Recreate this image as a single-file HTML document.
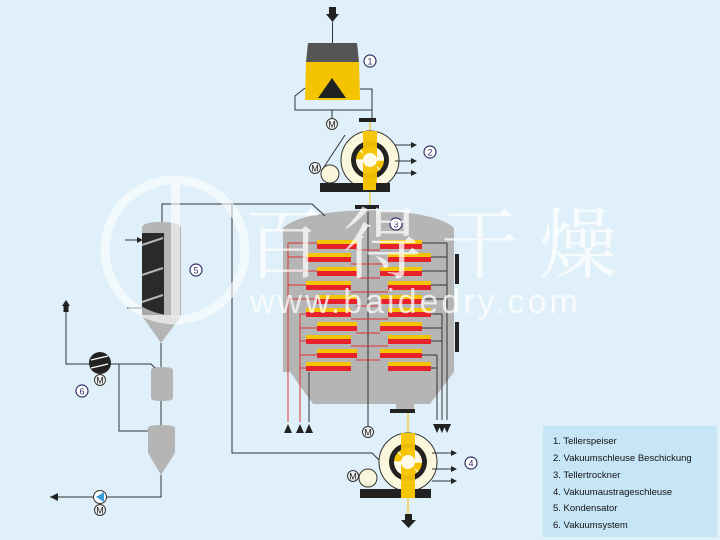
<!DOCTYPE html>
<html><head><meta charset="utf-8"><style>
html,body{margin:0;padding:0;background:#dff0fa;}
svg{display:block;font-family:"Liberation Sans",sans-serif;}
</style></head><body>
<svg width="720" height="540" viewBox="0 0 720 540" xmlns="http://www.w3.org/2000/svg">
<defs>
<marker id="ab" markerWidth="6" markerHeight="6" refX="5" refY="3" orient="auto"><path d="M0,0L6,3L0,6z" fill="#222"/></marker>
<g id="valve">
  <circle cx="0" cy="0" r="29" fill="#fbf7dc" stroke="#333" stroke-width="1"/>
  <circle cx="0" cy="0" r="19" fill="#222"/>
  <circle cx="0" cy="0" r="14" fill="#f5c400"/>
  <g stroke="#fff" stroke-width="1.2">
    <line x1="-14" y1="0" x2="14" y2="0"/><line x1="0" y1="-14" x2="0" y2="14"/>
    <line x1="-10" y1="-10" x2="10" y2="10"/><line x1="-10" y1="10" x2="10" y2="-10"/>
  </g>
  <path d="M0,-14A14,14 0 0 1 14,0L0,0z M0,14A14,14 0 0 1 -14,0L0,0z" fill="#fff" opacity="0.9"/>
  <rect x="-7" y="-29" width="14" height="58" fill="#f5c400" opacity="0.95"/>
  <circle cx="0" cy="0" r="7" fill="#fffbe8"/>
</g>
<g id="m"><circle r="5.5" fill="#eee" stroke="#333" stroke-width="1"/><text y="3.5" text-anchor="middle" font-size="9" fill="#222">M</text></g>
</defs>
<rect width="720" height="540" fill="#dff0fa"/>

<!-- top arrow & hopper -->
<rect x="329" y="7" width="7" height="8" fill="#222"/><path d="M326,14L339,14L332.5,22z" fill="#222"/>
<line x1="332.5" y1="22" x2="332.5" y2="43" stroke="#333"/>
<path d="M308,43L357,43L359,62L306,62z" fill="#555"/>
<path d="M306,62L359,62L360,100L305,100z" fill="#f5c400"/>
<path d="M332,78L346,98L318,98z" fill="#222"/>
<path d="M305,88L295,96L295,110L332,110L332,118 M332,110L372,110" fill="none" stroke="#333"/>
<path d="M360,89L372,89L372,122" fill="none" stroke="#333"/>
<use href="#m" x="332" y="124"/>
<rect x="359" y="118" width="17" height="4" fill="#222"/>
<line x1="370" y1="122" x2="370" y2="135" stroke="#f5c400"/>
<circle cx="370" cy="61" r="6" fill="#fff" stroke="#336" stroke-width="1.2"/><text x="370" y="64.5" text-anchor="middle" font-size="9" fill="#336">1</text>

<!-- valve 2 -->
<use href="#valve" x="370" y="160"/>
<circle cx="330" cy="174" r="9" fill="#fbf7dc" stroke="#333"/>
<path d="M322,170L345,135" stroke="#333"/>
<use href="#m" x="315" y="168"/>
<rect x="320" y="183" width="70" height="9" fill="#222"/>
<rect x="363" y="178" width="13" height="12" fill="#f5c400"/>
<g stroke="#333" marker-end="url(#ab)"><line x1="395" y1="145" x2="416" y2="145"/><line x1="395" y1="161" x2="416" y2="161"/><line x1="395" y1="173" x2="416" y2="173"/></g>
<circle cx="430" cy="152" r="6" fill="#fff" stroke="#336" stroke-width="1.2"/><text x="430" y="155.5" text-anchor="middle" font-size="9" fill="#336">2</text>
<line x1="370" y1="192" x2="370" y2="206" stroke="#f5c400"/>

<!-- dryer vessel -->
<rect x="355" y="205" width="24" height="4" fill="#222"/>
<path d="M283,228Q300,212 368,210Q437,212 454,228L454,372L430,404L313,404L290,372L283,372z" fill="#b5b5b5"/>
<rect x="396" y="404" width="18" height="8" fill="#b5b5b5"/>
<rect x="390" y="409" width="25" height="4" fill="#222"/>
<line x1="408" y1="413" x2="408" y2="440" stroke="#f5c400"/>
<rect x="455" y="254" width="4" height="30" fill="#222"/><rect x="455" y="322" width="4" height="30" fill="#222"/>
<circle cx="396" cy="224" r="6" fill="#fff" stroke="#336" stroke-width="1.2"/><text x="396" y="227.5" text-anchor="middle" font-size="9" fill="#336">3</text>
<line x1="368" y1="207" x2="368" y2="372" stroke="#333"/>
<line x1="368" y1="372" x2="368" y2="427" stroke="#333"/>
<use href="#m" x="368" y="432"/>
<!-- red heat lines -->
<g stroke="#d33" stroke-width="1" fill="none">
<line x1="288" y1="243" x2="288" y2="422"/><line x1="300" y1="314" x2="300" y2="422"/>
<path d="M288,243H317 M288,257H306 M288,271H317 M288,285H306 M288,299H317 M300,314H306 M300,328H317 M300,341H306 M300,355H317 M300,368H306"/>
<path d="M356,250H380 M351,264H388 M356,278H380 M351,292H388 M356,306H380 M351,319H388 M356,333H380 M351,346H388 M356,360H380"/>
</g>
<g stroke="#333" stroke-width="1" fill="none">
<path d="M422,243H447 M431,257H447 M422,271H447 M431,285H447 M422,299H447 M431,314H442 M422,328H442 M431,341H442 M422,355H437 M431,368H437"/>
<line x1="447" y1="243" x2="447" y2="420"/><line x1="442" y1="314" x2="442" y2="420"/><line x1="437" y1="355" x2="437" y2="420"/>
<line x1="309" y1="372" x2="309" y2="422"/>
</g>
<g>
<path d="M284,433L288,424L292,433z M296,433L300,424L304,433z M305,433L309,424L313,433z" fill="#222"/>
<path d="M433,424L437,433L441,424z M438,424L442,433L446,424z M443,424L447,433L451,424z" fill="#222"/>
</g>
<!-- plates -->
<g>
<g id="pl"><rect x="317" y="240" width="40" height="4" fill="#f5c400"/><rect x="317" y="244" width="40" height="5" fill="#e8222a"/></g>
<rect x="306" y="253" width="45" height="4" fill="#f5c400"/><rect x="306" y="257" width="45" height="5" fill="#e8222a"/>
<rect x="317" y="267" width="40" height="4" fill="#f5c400"/><rect x="317" y="271" width="40" height="5" fill="#e8222a"/>
<rect x="306" y="281" width="45" height="4" fill="#f5c400"/><rect x="306" y="285" width="45" height="5" fill="#e8222a"/>
<rect x="317" y="295" width="40" height="4" fill="#f5c400"/><rect x="317" y="299" width="40" height="5" fill="#e8222a"/>
<rect x="306" y="308" width="45" height="4" fill="#f5c400"/><rect x="306" y="312" width="45" height="5" fill="#e8222a"/>
<rect x="317" y="322" width="40" height="4" fill="#f5c400"/><rect x="317" y="326" width="40" height="5" fill="#e8222a"/>
<rect x="306" y="335" width="45" height="4" fill="#f5c400"/><rect x="306" y="339" width="45" height="5" fill="#e8222a"/>
<rect x="317" y="349" width="40" height="4" fill="#f5c400"/><rect x="317" y="353" width="40" height="5" fill="#e8222a"/>
<rect x="306" y="362" width="45" height="4" fill="#f5c400"/><rect x="306" y="366" width="45" height="5" fill="#e8222a"/>

<rect x="380" y="240" width="42" height="4" fill="#f5c400"/><rect x="380" y="244" width="42" height="5" fill="#e8222a"/>
<rect x="388" y="253" width="43" height="4" fill="#f5c400"/><rect x="388" y="257" width="43" height="5" fill="#e8222a"/>
<rect x="380" y="267" width="42" height="4" fill="#f5c400"/><rect x="380" y="271" width="42" height="5" fill="#e8222a"/>
<rect x="388" y="281" width="43" height="4" fill="#f5c400"/><rect x="388" y="285" width="43" height="5" fill="#e8222a"/>
<rect x="380" y="295" width="42" height="4" fill="#f5c400"/><rect x="380" y="299" width="42" height="5" fill="#e8222a"/>
<rect x="388" y="308" width="43" height="4" fill="#f5c400"/><rect x="388" y="312" width="43" height="5" fill="#e8222a"/>
<rect x="380" y="322" width="42" height="4" fill="#f5c400"/><rect x="380" y="326" width="42" height="5" fill="#e8222a"/>
<rect x="388" y="335" width="43" height="4" fill="#f5c400"/><rect x="388" y="339" width="43" height="5" fill="#e8222a"/>
<rect x="380" y="349" width="42" height="4" fill="#f5c400"/><rect x="380" y="353" width="42" height="5" fill="#e8222a"/>
<rect x="388" y="362" width="43" height="4" fill="#f5c400"/><rect x="388" y="366" width="43" height="5" fill="#e8222a"/>
</g>

<!-- vapor lines -->
<path d="M162,222V204H312L325,216" fill="none" stroke="#333"/>
<path d="M232,204V453H372L385,466" fill="none" stroke="#333"/>

<!-- valve 4 -->
<use href="#valve" x="408" y="462"/>
<circle cx="368" cy="478" r="9" fill="#fbf7dc" stroke="#333"/>
<use href="#m" x="353" y="476"/>
<rect x="360" y="489" width="71" height="9" fill="#222"/>
<rect x="401" y="484" width="14" height="14" fill="#f5c400"/>
<g stroke="#333" marker-end="url(#ab)"><line x1="432" y1="453" x2="456" y2="453"/><line x1="432" y1="469" x2="456" y2="469"/><line x1="432" y1="481" x2="456" y2="481"/></g>
<circle cx="471" cy="463" r="6" fill="#fff" stroke="#336" stroke-width="1.2"/><text x="471" y="466.5" text-anchor="middle" font-size="9" fill="#336">4</text>
<line x1="408" y1="498" x2="408" y2="514" stroke="#f5c400"/>
<rect x="405" y="514" width="7" height="7" fill="#222"/><path d="M401,520L416,520L408.5,528z" fill="#222"/>

<!-- condenser 5 -->
<path d="M142,228Q142,222 161,222Q181,222 181,228V316L161,343L142,316z" fill="#b5b5b5"/>
<rect x="142" y="233" width="22" height="82" fill="#2a2a2a"/>
<path d="M142,245L163,238M142,275L163,268M142,302L163,295" stroke="#b5b5b5" stroke-width="2"/>
<line x1="125" y1="240" x2="142" y2="240" stroke="#333" marker-end="url(#ab)"/>
<line x1="127" y1="308" x2="142" y2="308" stroke="#333"/>
<circle cx="196" cy="270" r="6" fill="#fff" stroke="#336" stroke-width="1.2"/><text x="196" y="273.5" text-anchor="middle" font-size="9" fill="#336">5</text>
<line x1="161" y1="343" x2="161" y2="368" stroke="#333"/>
<path d="M151,370Q151,367 161,367Q173,367 173,370V398Q173,401 161,401Q151,401 151,398z" fill="#b5b5b5"/>
<line x1="161" y1="401" x2="161" y2="426" stroke="#333"/>
<path d="M148,428Q148,425 161,425Q175,425 175,428V453L161,475L148,453z" fill="#b5b5b5"/>
<path d="M161,475V497H50" fill="none" stroke="#333"/>
<path d="M50,497L58,493L58,501z" fill="#222"/>
<circle cx="100" cy="497" r="6.5" fill="#fff" stroke="#333"/><path d="M96,497L104,492L104,502z" fill="#3a9fd8"/>
<use href="#m" x="100" y="510"/>
<!-- vacuum 6 -->
<path d="M66,311V364H151L155,368 M119,364V431H148" fill="none" stroke="#333"/>
<path d="M62,306L66,300L70,306z" fill="#222"/><rect x="63.5" y="305" width="5" height="7" fill="#222"/>
<circle cx="100" cy="363" r="11" fill="#222"/>
<path d="M91,360L108,356M91,368L108,364" stroke="#fff" stroke-width="1.2"/>
<use href="#m" x="100" y="380"/>
<circle cx="82" cy="391" r="6" fill="#fff" stroke="#336" stroke-width="1.2"/><text x="82" y="394.5" text-anchor="middle" font-size="9" fill="#336">6</text>

<!-- watermark -->
<g opacity="0.75" fill="#fff">
<circle cx="175" cy="250" r="70" fill="none" stroke="#fff" stroke-width="9" opacity="0.8"/>
<rect x="171" y="182" width="9" height="136" opacity="0.8"/>
<text x="245" y="272" font-family="'Noto Serif CJK SC',serif" font-size="78" letter-spacing="20">百得干燥</text>
<text x="250" y="313" font-size="34" letter-spacing="3">www.baidedry.com</text>
</g>

<!-- legend -->
<rect x="543" y="426" width="174" height="111" fill="#c6e6f8"/>
<g font-size="9.5" fill="#111">
<text x="553" y="444">1. Tellerspeiser</text>
<text x="553" y="461">2. Vakuumschleuse Beschickung</text>
<text x="553" y="478">3. Tellertrockner</text>
<text x="553" y="495">4. Vakuumaustrageschleuse</text>
<text x="553" y="511">5. Kondensator</text>
<text x="553" y="528">6. Vakuumsystem</text>
</g>
</svg>
</body></html>
